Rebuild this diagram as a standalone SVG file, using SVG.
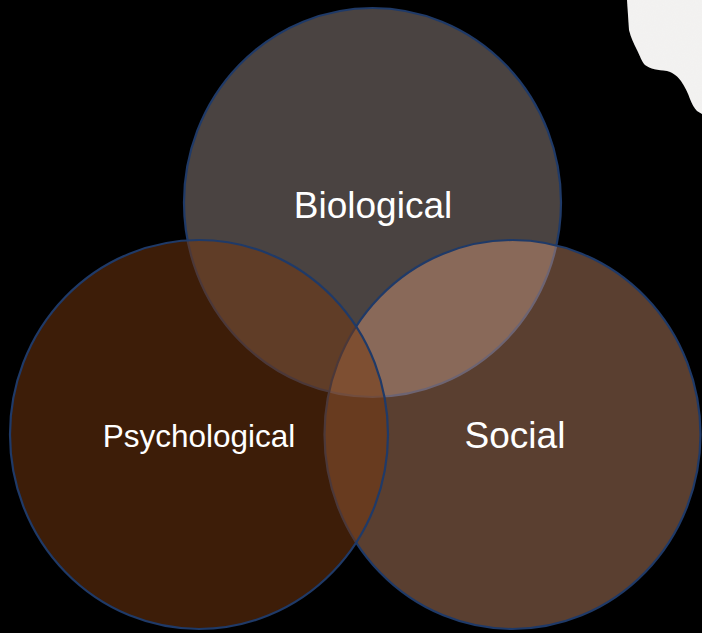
<svg xmlns="http://www.w3.org/2000/svg" width="702" height="633" viewBox="0 0 702 633">
  <style>
    .circ { stroke: #1f3a68; stroke-width: 2.2; }
    .lbl { font-family: "Liberation Sans", Arial, sans-serif; fill: #ffffff; text-anchor: middle; }
  </style>
  <defs>
    <filter id="grain" x="0" y="0" width="1" height="1">
      <feTurbulence type="fractalNoise" baseFrequency="0.9" numOctaves="2" seed="3" result="n"/>
      <feColorMatrix in="n" type="matrix" values="0 0 0 0 0.93  0 0 0 0 0.93  0 0 0 0 0.92  0 0 0 0.25 0" result="c"/>
      <feComposite in="c" in2="SourceGraphic" operator="in" result="t"/>
      <feMerge><feMergeNode in="SourceGraphic"/><feMergeNode in="t"/></feMerge>
    </filter>
  </defs>
  <rect width="702" height="633" fill="#000000"/>
  <g id="corner-shape">
    <path d="M627,0 L629,30 C631,38 634,44 637,50 C640,56 642,62 645,65 C650,69 658,70 667,71 C674,73 678,77 681,81 C685,87 688,93 690,99 C692,104 694,108 697,111 L702,114 L702,0 Z" fill="#f2f1f0" filter="url(#grain)"/>
  </g>
  <g id="biological">
    <ellipse class="circ" cx="372.5" cy="202.5" rx="188.5" ry="194.5" fill="#4a4341"/>
  </g>
  <g id="social">
    <ellipse class="circ" cx="512.5" cy="434.5" rx="188" ry="194.5" fill="rgb(250,175,133)" fill-opacity="0.36"/>
  </g>
  <g id="psychological">
    <ellipse class="circ" cx="199" cy="434.5" rx="189" ry="194.5" fill="rgb(117,56,15)" fill-opacity="0.52"/>
  </g>
  <g id="labels">
    <text class="lbl" x="373" y="218" font-size="37">Biological</text>
    <text class="lbl" x="199" y="447" font-size="31.5">Psychological</text>
    <text class="lbl" x="515" y="448" font-size="37">Social</text>
  </g>
</svg>
